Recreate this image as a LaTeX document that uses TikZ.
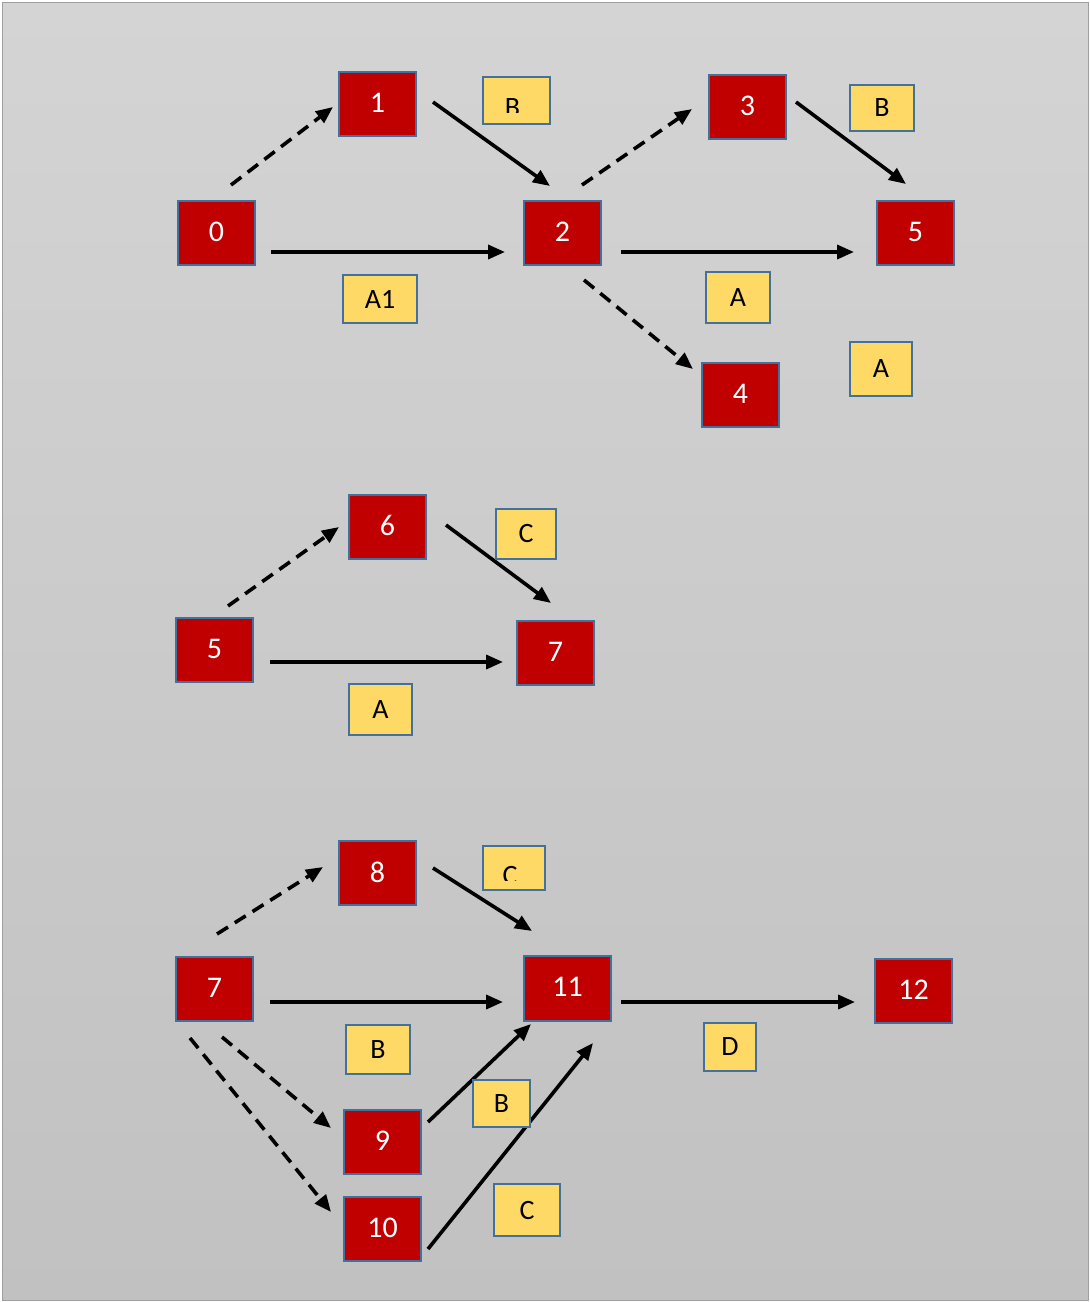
\documentclass[tikz,border=0pt]{standalone}
\usepackage{fontspec}
\setmainfont{Carlito}
\usetikzlibrary{arrows.meta,calc}
\definecolor{boxred}{HTML}{C00000}
\definecolor{boxyel}{HTML}{FFD966}
\definecolor{boxedge}{HTML}{41719C}
\definecolor{bgtop}{HTML}{D4D4D4}
\definecolor{bgbot}{HTML}{C1C1C1}
\begin{document}
\begin{tikzpicture}[x=1pt,y=-1pt,
  evt/.style={draw=boxedge,line width=2.2pt,fill=boxred,text=white,minimum width=77pt,minimum height=64pt,inner sep=0pt,font=\fontsize{30}{34}\selectfont},
  lbl/.style={draw=boxedge,line width=2.2pt,fill=boxyel,text=black,inner sep=0pt,font=\fontsize{28}{32}\selectfont},
  act/.style={line width=3.6pt,-{Triangle[length=17pt,width=14pt]}},
  dum/.style={act,dash pattern=on 13pt off 8pt},
]
\useasboundingbox (0,0) rectangle (1090,1302);
\fill[white] (0,0) rectangle (1090,1302);
\shade[top color=bgtop,bottom color=bgbot,draw=gray!75,line width=1.5pt] (2.5,2.5) rectangle (1088.5,1300.5);

\newcommand{\up}[1]{\raisebox{2.5pt}{#1}}
\newcommand{\dn}[1]{\raisebox{-3.5pt}{#1}}

% ---------- top network ----------
\node[evt] (n0)  at (216.5,233) {\up{0}};
\node[evt] (n1)  at (377.5,104) {\up{1}};
\node[evt] (n2)  at (562.5,233) {\up{2}};
\node[evt] (n3)  at (747.5,107) {\up{3}};
\node[evt] (n5)  at (915.5,233) {\up{5}};
\node[evt] (n4)  at (740.5,395) {\up{4}};

\coordinate (a01s) at (231,185); \coordinate (a01e) at (333,107);
\coordinate (a12s) at (433,102); \coordinate (a12e) at (550,186);
\coordinate (a02s) at (271,252); \coordinate (a02e) at (505,252);
\coordinate (a23s) at (582,185); \coordinate (a23e) at (692,109);
\coordinate (a35s) at (796,102); \coordinate (a35e) at (906,184);
\coordinate (a25s) at (621,252); \coordinate (a25e) at (854,252);
\coordinate (a24s) at (584,280); \coordinate (a24e) at (693,369);
\draw[dum] (a01s) -- (a01e);
\draw[act] (a12s) -- (a12e);
\draw[act] (a02s) -- (a02e);
\draw[dum] (a23s) -- (a23e);
\draw[act] (a35s) -- (a35e);
\draw[act] (a25s) -- (a25e);
\draw[dum] (a24s) -- (a24e);

\node[lbl,minimum width=67pt,minimum height=47pt] (lB1) at (516.5,100.5) {};
\begin{scope}
  \clip (lB1.north west) rectangle ($(lB1.south east)+(0,-13)$);
  \node[font=\fontsize{28}{32}\selectfont,inner sep=0pt] at ($(lB1.center)+(-4,7)$) {B};
\end{scope}
\node[lbl,minimum width=74pt,minimum height=48pt] (lA1) at (380,299) {\dn{A1}};
\node[lbl,minimum width=64pt,minimum height=51pt] (lA2) at (738,297.5) {\dn{A}};
\node[lbl,minimum width=64pt,minimum height=46pt] (lB2) at (882,108) {\dn{B}};
\node[lbl,minimum width=62pt,minimum height=54pt] (lA3) at (881,369) {\dn{A}};

% ---------- middle network ----------
\node[evt] (m5) at (214.5,650) {\up{5}};
\node[evt] (m6) at (387.5,527) {\up{6}};
\node[evt] (m7) at (555.5,653) {\up{7}};
\coordinate (b56s) at (228,606); \coordinate (b56e) at (339,527);
\coordinate (b67s) at (446,525); \coordinate (b67e) at (551,603);
\coordinate (b57s) at (270,662); \coordinate (b57e) at (503,662);
\draw[dum] (b56s) -- (b56e);
\draw[act] (b67s) -- (b67e);
\draw[act] (b57s) -- (b57e);
\node[lbl,minimum width=60pt,minimum height=50pt] (lC1) at (526,534) {\dn{C}};
\node[lbl,minimum width=63pt,minimum height=51pt] (lA4) at (380.5,709.5) {\dn{A}};

% ---------- bottom network ----------
\node[evt] (k7)  at (214.5,989) {\up{7}};
\node[evt] (k8)  at (377.5,873) {\up{8}};
\node[evt,minimum width=87pt,minimum height=65pt] (k11) at (567.5,988.5) {\up{11}};
\node[evt] (k12) at (913.5,991) {\up{12}};
\node[evt] (k9)  at (382.5,1142) {\up{9}};
\node[evt] (k10) at (382.5,1229) {\up{10}};

\coordinate (c78s) at (217,934);   \coordinate (c78e) at (323,867);
\coordinate (c811s) at (433,868);  \coordinate (c811e) at (532,931);
\coordinate (c711s) at (270,1002); \coordinate (c711e) at (503,1002);
\coordinate (c1112s) at (621,1002);\coordinate (c1112e) at (855,1002);
\coordinate (c79s) at (222,1037);  \coordinate (c79e) at (331,1128);
\coordinate (c710s) at (190,1038); \coordinate (c710e) at (331,1212);
\coordinate (c911s) at (428,1122); \coordinate (c911e) at (531,1024);
\coordinate (c1011s) at (428,1249);\coordinate (c1011e) at (593,1043);
\draw[dum] (c78s) -- (c78e);
\draw[act] (c811s) -- (c811e);
\draw[act] (c711s) -- (c711e);
\draw[act] (c1112s) -- (c1112e);
\draw[dum] (c79s) -- (c79e);
\draw[dum] (c710s) -- (c710e);
\draw[act] (c911s) -- (c911e);
\draw[act] (c1011s) -- (c1011e);

\node[lbl,minimum width=62pt,minimum height=44pt] (lC2) at (514,868) {};
\begin{scope}
  \clip (lC2.north west) rectangle ($(lC2.south east)+(0,-11)$);
  \node[font=\fontsize{28}{32}\selectfont,inner sep=0pt] at ($(lC2.center)+(-4,7.5)$) {C};
\end{scope}
\node[lbl,minimum width=64pt,minimum height=49pt] (lB3) at (378,1049.5) {\dn{B}};
\node[lbl,minimum width=52pt,minimum height=48pt] (lD)  at (730,1047) {\dn{D}};
\node[lbl,minimum width=57pt,minimum height=47pt] (lB4) at (501.5,1103.5) {\dn{B}};
\node[lbl,minimum width=66pt,minimum height=52pt] (lC3) at (527,1210) {\dn{C}};
\end{tikzpicture}
\end{document}
